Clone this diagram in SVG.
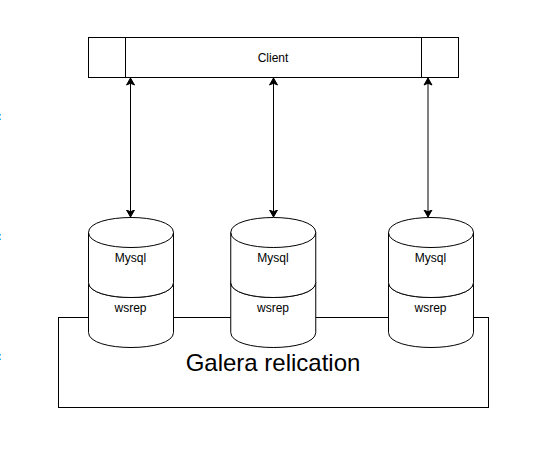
<svg xmlns="http://www.w3.org/2000/svg" width="545" height="475" viewBox="0 0 545 475">
<style>
.s{fill:#fff;stroke:#000;stroke-width:1}
.n{fill:none;stroke:#000;stroke-width:1}
text{font-family:"Liberation Sans",Arial,sans-serif;font-size:12px;fill:#000;text-anchor:middle}
.tick{fill:#29b6f2}
</style>
<defs>
<path id="cyl" d="M0 15C0-5 85-5 85 15L85 65C85 85 0 85 0 65Z"/>
<path id="lid" d="M0 15C0 35 85 35 85 15"/>
<marker id="a" viewBox="0 0 8 10" refX="7.5" refY="5" markerWidth="8" markerHeight="10" orient="auto-start-reverse" markerUnits="userSpaceOnUse"><path d="M0.5 1L7.5 5L0.5 9L2.25 5Z" fill="#000" stroke="#000"/></marker>
</defs>
<rect width="545" height="475" fill="#fff"/>
<g id="ticks">
<rect class="tick" x="0" y="114" width="1" height="1.500"/><rect class="tick" x="0" y="118.500" width="1" height="1.500"/>
<rect class="tick" x="0" y="234" width="1" height="1.500"/><rect class="tick" x="0" y="238.500" width="1" height="1.500"/>
<rect class="tick" x="0" y="354" width="1" height="1.500"/><rect class="tick" x="0" y="358.500" width="1" height="1.500"/>
</g>
<g id="galera">
<rect class="s" x="58.500" y="317.500" width="430" height="90"/>
<text x="273" y="371" style="font-size:24px">Galera relication</text>
</g>
<g id="client">
<rect class="s" x="88.500" y="37.500" width="370" height="40"/>
<path class="n" d="M125.500 37.500V77.500M421.500 37.500V77.500"/>
<text x="273" y="62">Client</text>
</g>
<g id="connectors">
<path class="n" d="M130.500 78V217" marker-start="url(#a)" marker-end="url(#a)"/>
<path class="n" d="M273.500 78V217" marker-start="url(#a)" marker-end="url(#a)"/>
<path class="n" d="M428 78V217" marker-start="url(#a)" marker-end="url(#a)"/>
</g>
<g id="wsrep1" transform="translate(88.500 267.500)"><use href="#cyl" class="s"/><use href="#lid" class="n"/></g>
<g id="mysql1" transform="translate(88.500 217.500)"><use href="#cyl" class="s"/><use href="#lid" class="n"/><text x="42" y="44.500">Mysql</text><text x="42" y="94.500">wsrep</text></g>
<g id="wsrep2" transform="translate(230.750 267.500)"><use href="#cyl" class="s"/><use href="#lid" class="n"/></g>
<g id="mysql2" transform="translate(230.750 217.500)"><use href="#cyl" class="s"/><use href="#lid" class="n"/><text x="42.250" y="44.500">Mysql</text><text x="42.250" y="94.500">wsrep</text></g>
<g id="wsrep3" transform="translate(388.500 267.500)"><use href="#cyl" class="s"/><use href="#lid" class="n"/></g>
<g id="mysql3" transform="translate(388.500 217.500)"><use href="#cyl" class="s"/><use href="#lid" class="n"/><text x="42" y="44.500">Mysql</text><text x="42" y="94.500">wsrep</text></g>
</svg>
